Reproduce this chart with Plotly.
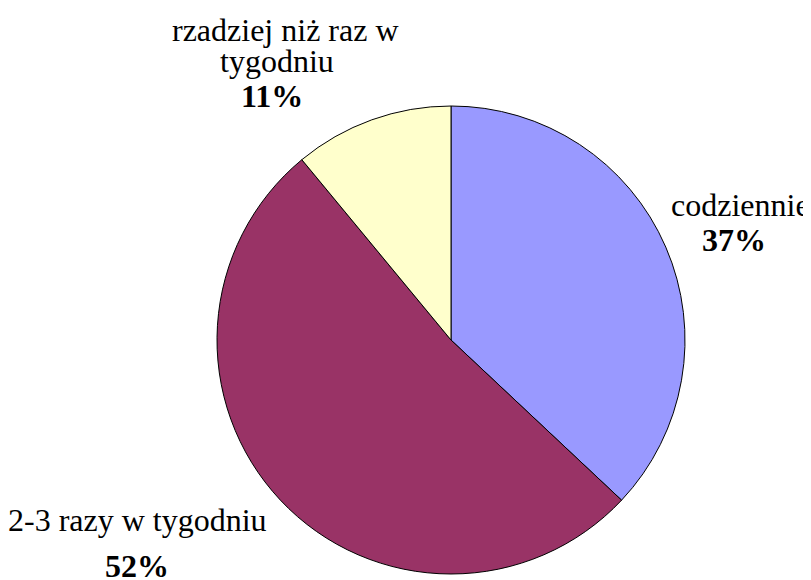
import plotly.graph_objects as go

labels = ["codziennie", "2-3 razy w tygodniu", "rzadziej niż raz w tygodniu"]
values = [37, 52, 11]
colors = ["#9999FF", "#993366", "#FFFFCC"]

W, H = 811, 580

fig = go.Figure(go.Pie(
    labels=labels,
    values=values,
    sort=False,
    direction="clockwise",
    rotation=0,
    textinfo="none",
    hoverinfo="label+percent",
    marker=dict(colors=colors, line=dict(color="black", width=1)),
    domain=dict(x=[209 / W, 677 / W], y=[14 / H, 482 / H]),
    showlegend=False,
))

font = dict(family="Liberation Serif, Times New Roman, serif", size=32, color="black")


def etykieta(tekst, px, py):
    # px, py w pikselach od lewego górnego rogu
    fig.add_annotation(x=px / W, y=1 - py / H, text=tekst, showarrow=False, font=font,
                       xref="paper", yref="paper", xanchor="center", yanchor="middle")


etykieta("rzadziej niż raz w", 277, 22)
etykieta("tygodniu", 269, 53)
etykieta("<b>11%</b>", 264, 88)
etykieta("codziennie", 732, 197)
etykieta("<b>37%</b>", 726, 232)
etykieta("2-3 razy w tygodniu", 129, 512)
etykieta("<b>52%</b>", 129, 558)

fig.update_layout(width=W, height=H, margin=dict(l=0, r=0, t=0, b=0),
                  paper_bgcolor="white", plot_bgcolor="white")

fig.write_html("out.html")
